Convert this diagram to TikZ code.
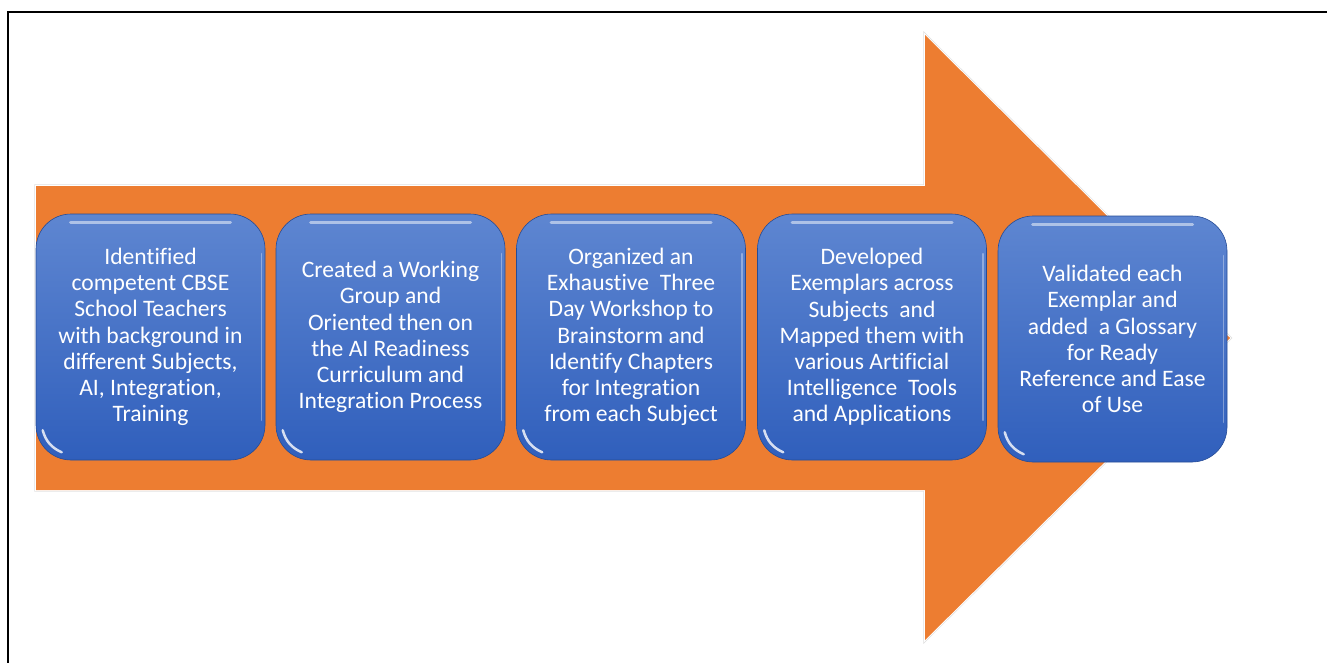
\documentclass[tikz,border=0pt]{standalone}
\usepackage{fontspec}
\setmainfont{Carlito}[Ligatures=NoCommon]
\usepackage{tikz}
\usetikzlibrary{calc}
\definecolor{arroworange}{RGB}{237,125,49}
\definecolor{boxtop}{RGB}{94,134,209}
\definecolor{boxbottom}{RGB}{48,95,188}
\tikzset{
  stagebox/.style={rounded corners=35pt, minimum width=229pt, minimum height=246pt,
    top color=boxtop, bottom color=boxbottom, draw=boxbottom!80!black, line width=0.6pt,
    text=white, align=center, inner sep=4pt,
    font=\fontsize{23.6}{26.2}\selectfont},
  gloss/.style={white, line cap=round, opacity=0.5, line width=3pt}
}

\begin{document}
\begin{tikzpicture}[x=1pt,y=-1pt]
\useasboundingbox (0,0) rectangle (1327,662);
\clip (0,0) rectangle (1327,662);
% frame
\draw[line width=2pt] (8,680) -- (8,12) -- (1340,12);
% big arrow
\path[draw=black!13, double=white, double distance=2pt, line width=0.6pt]
  (36,186) -- (925,186) -- (925,35) -- (1230,338) -- (925,640) -- (925,490) -- (36,490) -- cycle;
\fill[arroworange]
  (36,186) -- (925,186) -- (925,35) -- (1230,338) -- (925,640) -- (925,490) -- (36,490) -- cycle;
% stages
\node[stagebox] (stage1) at (150.5,337) {Identified\\competent CBSE\\School Teachers\\with background in\\different Subjects,\\AI, Integration,\\Training};
\node[stagebox] (stage2) at (390.5,337) {Created a Working\\Group and\\Oriented then on\\the AI Readiness\\Curriculum and\\Integration Process};
\node[stagebox] (stage3) at (631,337) {Organized an\\Exhaustive\ \ Three\\Day Workshop to\\Brainstorm and\\Identify Chapters\\for Integration\\from each Subject};
\node[stagebox] (stage4) at (872,337) {Developed\\Exemplars across\\Subjects\ \ and\\Mapped them with\\various Artificial\\Intelligence\ \ Tools\\and Applications};
\node[stagebox] (stage5) at (1112.5,339) {Validated each\\Exemplar and\\added\ \ a Glossary\\for Ready\\Reference and Ease\\of Use};
% glossy edges
\foreach \s in {stage1,stage2,stage3,stage4,stage5} {
  \draw[gloss] ([xshift=-80pt,yshift=-9pt]\s.north) -- ([xshift=80pt,yshift=-9pt]\s.north);
  \draw[gloss, opacity=0.35, line width=1.5pt] ([xshift=-4pt,yshift=40pt]\s.south east) -- ([xshift=-4pt,yshift=-40pt]\s.north east);
  \draw[gloss, opacity=0.8, line width=2.5pt] ([xshift=7pt,yshift=30pt]\s.south west) to[bend right=25] ([xshift=26pt,yshift=8pt]\s.south west);
}
\end{tikzpicture}
\end{document}
